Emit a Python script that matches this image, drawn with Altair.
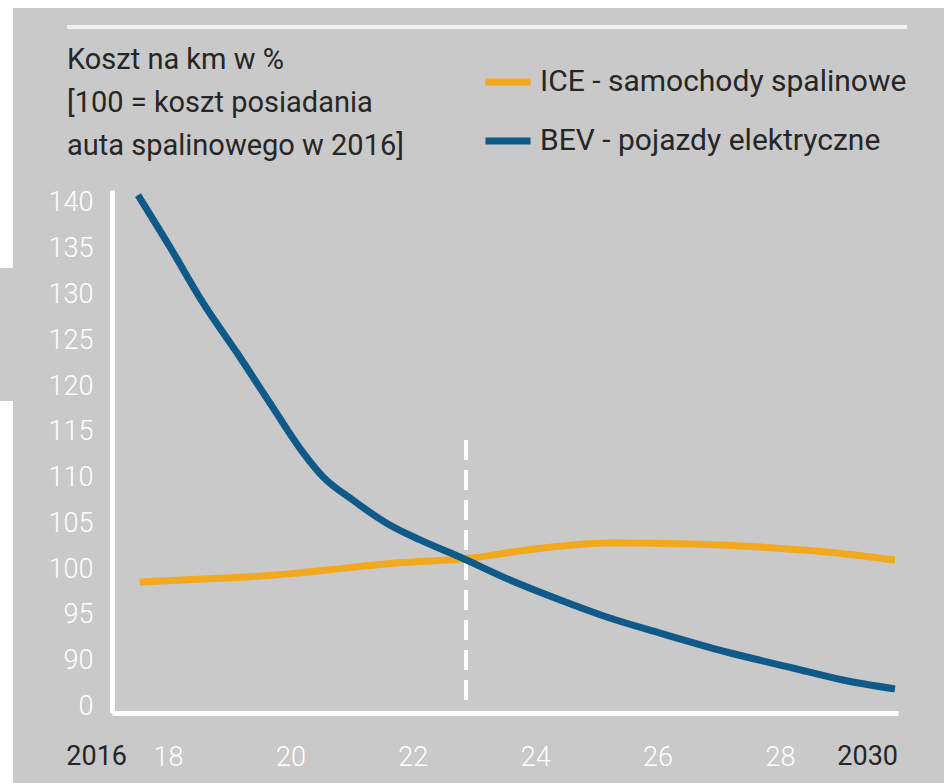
import altair as alt
import pandas as pd

# ---- data ----
years_ice = [2017.54, 2018.5, 2019.4, 2020.16, 2021.0, 2021.79, 2022.93, 2023.87, 2025.22, 2026.58, 2027.67, 2028.77, 2029.88]
ice = [98.6, 98.9, 99.2, 99.6, 100.2, 100.7, 101.2, 102.1, 102.86, 102.75, 102.42, 101.88, 101.0]
years_bev = [2017.51, 2018.03, 2018.57, 2019.13, 2019.67, 2020.21, 2020.53, 2021.02, 2021.58, 2022.12,
             2022.77, 2023.59, 2024.41, 2025.22, 2026.04, 2027.13, 2028.21, 2029.03, 2029.88]
bev = [140.85, 135.2, 129.1, 123.6, 118.1, 112.7, 110.1, 107.55, 105.0, 103.2,
       101.33, 98.82, 96.64, 94.67, 93.03, 90.96, 89.21, 87.9, 86.92]
series_names = ["ICE - samochody spalinowe", "BEV - pojazdy elektryczne"]
series_colors = ["#F2A91E", "#0F5A88"]
x_ticks = [2018, 2020, 2022, 2024, 2026, 2028]
y_ticks = [85, 90, 95, 100, 105, 110, 115, 120, 125, 130, 135, 140]
x_domain = [2017.085, 2029.93]
y_domain = [84.3, 141.4]
edge_labels = ["2016", "2030"]
crossing_year = [2022.87]
crossing_from = [85.6]
crossing_to = [114.1]
title_lines = ["Koszt na km w %", "[100 = koszt posiadania", "auta spalinowego w 2016]"]

W, H = 786, 523
BG = "#C9C9C9"
TXT = "#262626"
TICKFONT = "Roboto"

df = pd.concat([
    pd.DataFrame({"year": years_ice, "value": ice, "series": series_names[0]}),
    pd.DataFrame({"year": years_bev, "value": bev, "series": series_names[1]}),
])

one = pd.DataFrame({"a": [0]})

panel = alt.Chart(one).mark_rect(color=BG).encode(
    x=alt.value(-99), x2=alt.value(840), y=alt.value(-182), y2=alt.value(600))
tab = alt.Chart(one).mark_rect(color=BG).encode(
    x=alt.value(-112), x2=alt.value(-98), y=alt.value(78), y2=alt.value(211))
top_rule = alt.Chart(one).mark_rule(color="#F2F2F2", strokeWidth=4).encode(
    x=alt.value(-45), x2=alt.value(795), y=alt.value(-163))

xs = alt.Scale(domain=x_domain, nice=False, zero=False)
ys = alt.Scale(domain=y_domain, nice=False, zero=False)

lines = alt.Chart(df).mark_line(strokeWidth=7, interpolate="monotone", strokeCap="butt").encode(
    x=alt.X("year:Q", scale=xs, axis=alt.Axis(
        values=x_ticks, labelExpr="substring(toString(datum.value), 2, 4)",
        title=None, grid=False, ticks=False, tickSize=0, labelColor="white",
        labelFont=TICKFONT, labelFontSize=27, labelFontWeight=300,
        labelBaseline="middle", labelPadding=44,
        domainColor="white", domainWidth=5, zindex=1)),
    y=alt.Y("value:Q", scale=ys, axis=alt.Axis(
        values=y_ticks, labelExpr="datum.value == 85 ? '0' : datum.label",
        title=None, grid=False, ticks=False, tickSize=0, labelColor="white",
        labelFont=TICKFONT, labelFontSize=27, labelFontWeight=300, labelPadding=19,
        domainColor="white", domainWidth=5, zindex=1)),
    color=alt.Color("series:N", scale=alt.Scale(domain=series_names, range=series_colors),
                    legend=alt.Legend(orient="none", legendX=370, legendY=-134, title=None,
                                      symbolType="stroke", symbolStrokeWidth=7, symbolSize=2025,
                                      labelFont="Roboto", labelFontSize=30, labelColor=TXT,
                                      labelOffset=6, rowPadding=18, labelLimit=600)),
)

cross_df = pd.DataFrame({"year": crossing_year, "v1": crossing_from, "v2": crossing_to})
dashed = alt.Chart(cross_df).mark_rule(color="white", strokeWidth=4, strokeDash=[20, 10]).encode(
    x=alt.X("year:Q", scale=xs), y=alt.Y("v2:Q", scale=ys), y2="v1:Q")

edge_df = pd.DataFrame({"label": edge_labels, "year": x_domain})
edge_left = alt.Chart(edge_df.iloc[[0]]).mark_text(
    align="right", baseline="middle", font=TICKFONT, fontSize=27, color=TXT, dx=15).encode(
    x=alt.X("year:Q", scale=xs), y=alt.value(H + 44), text="label:N")
edge_right = alt.Chart(edge_df.iloc[[1]]).mark_text(
    align="right", baseline="middle", font=TICKFONT, fontSize=27, color=TXT).encode(
    x=alt.X("year:Q", scale=xs), y=alt.value(H + 44), text="label:N")

title_text = alt.Chart(one).mark_text(align="left", baseline="middle", font="Roboto",
                                      fontSize=29, color=TXT, lineHeight=43).encode(
    x=alt.value(-45), y=alt.value(-130), text=alt.value(title_lines))

chart = alt.layer(panel, tab, top_rule, dashed, lines, edge_left, edge_right, title_text).properties(
    width=W, height=H, background="white",
    padding={"left": 112, "top": 190, "right": 46, "bottom": 70},
    autosize=alt.AutoSizeParams(type="none"),
).configure_view(stroke=None)

chart.save("out.html", embed_options={"renderer": "svg", "actions": False})
